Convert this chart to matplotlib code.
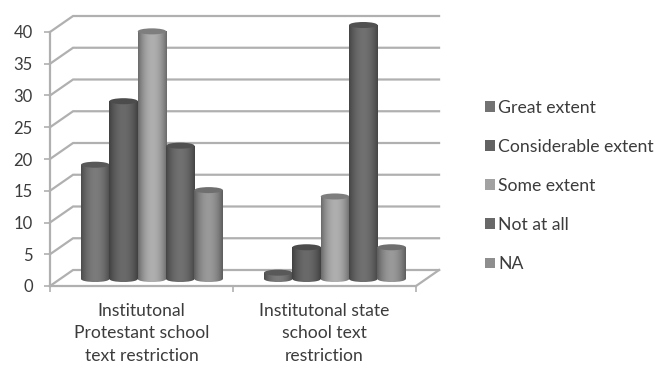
import numpy as np
import matplotlib
matplotlib.use('Agg')
import matplotlib.pyplot as plt
from matplotlib.patches import Ellipse, Patch, Rectangle

plt.rcParams['font.family'] = ['Lato', 'DejaVu Sans']

categories = ['Institutonal\nProtestant school\ntext restriction',
              'Institutonal state\nschool text\nrestriction']
series = ['Great extent', 'Considerable extent', 'Some extent', 'Not at all', 'NA']
protestant = [18, 28, 39, 21, 14]
state = [1, 5, 13, 40, 5]
yticks = [0, 5, 10, 15, 20, 25, 30, 35, 40]
colors = ['#727272', '#626262', '#a2a2a2', '#686868', '#8e8e8e']

GRID = '#b0b0b0'
TEXT = '#3c3c3c'
BAR_W = 0.155
# depth of the 3d box, in data units
WALL_X, WALL_Y = 0.126, 2.52
BAR_DX, BAR_DY = 0.057, 1.1
CAP_H = 0.95

fig = plt.figure(figsize=(6.57, 3.65), dpi=100)
ax = fig.add_axes([50 / 657, 79 / 365, 366 / 657, 254 / 365])
ax.set_xlim(0, 2)
ax.set_ylim(0, 40)


def shade(base):
    # dark edges, lighter towards the middle, like a lit cylinder
    t = np.abs(np.linspace(-1, 1, 64)) ** 2.0
    rgb = np.array(matplotlib.colors.to_rgb(base))
    row = np.outer(1.08 - 0.42 * t, rgb)
    return np.clip(row, 0, 1)[np.newaxis, :, :]


def cylinder(x, value, color, z):
    left, right = x - BAR_W / 2, x + BAR_W / 2
    bottom = BAR_DY
    top = value + BAR_DY
    grad = shade(color)
    low = bottom - CAP_H / 2
    im = ax.imshow(grad, extent=[left, right, low, top], aspect='auto', zorder=z)
    im.set_clip_path(Rectangle((left, bottom), BAR_W, value, transform=ax.transData))
    foot = ax.imshow(grad, extent=[left, right, low, top], aspect='auto', zorder=z)
    foot.set_clip_path(Ellipse((x, bottom), BAR_W, CAP_H, transform=ax.transData))
    rgb = np.array(matplotlib.colors.to_rgb(color)) * 0.78
    ax.add_patch(Ellipse((x, top), BAR_W, CAP_H, facecolor=rgb, edgecolor='none',
                         zorder=z + 0.1, clip_on=False))


# back wall gridlines, side wall diagonals and floor
for v in yticks:
    ax.plot([0, WALL_X, 2 + WALL_X], [v, v + WALL_Y, v + WALL_Y], color=GRID, lw=1.6,
            clip_on=False, zorder=1, solid_joinstyle='miter')
ax.plot([2, 2 + WALL_X], [0, WALL_Y], color=GRID, lw=1.6, clip_on=False, zorder=1)

for g, values in enumerate([protestant, state]):
    for i, value in enumerate(values):
        cylinder(g + 0.5 + BAR_DX + (i - 2) * BAR_W, value, colors[i], 3 + i)

ax.set_xlim(0, 2)
ax.set_ylim(0, 40)

for name in ['top', 'right']:
    ax.spines[name].set_visible(False)
for name in ['left', 'bottom']:
    ax.spines[name].set_color(GRID)
    ax.spines[name].set_linewidth(1.6)

ax.set_yticks(yticks)
ax.tick_params(axis='y', colors=GRID, labelcolor=TEXT, labelsize=12, length=4.5, width=1.2, pad=8)
ax.set_xticks([0, 1, 2])
ax.set_xticks([0.5, 1.5], minor=True)
ax.set_xticklabels([])
ax.set_xticklabels(categories, minor=True)
ax.tick_params(axis='x', which='major', colors=GRID, length=4, width=1.2)
ax.tick_params(axis='x', which='minor', length=0, labelcolor=TEXT, labelsize=12.6, pad=12)
for label in ax.get_xticklabels(minor=True):
    label.set_linespacing(1.5)

handles = [Patch(facecolor=c, edgecolor='none') for c in colors]
fig.legend(handles, series, loc='center left', bbox_to_anchor=(485 / 657, 1 - 186 / 365),
           frameon=False, fontsize=12.7, labelcolor=TEXT, handlelength=0.57, handleheight=0.57,
           handletextpad=0.17, labelspacing=1.31, borderpad=0, borderaxespad=0)

fig.savefig('out.png', dpi=100)
